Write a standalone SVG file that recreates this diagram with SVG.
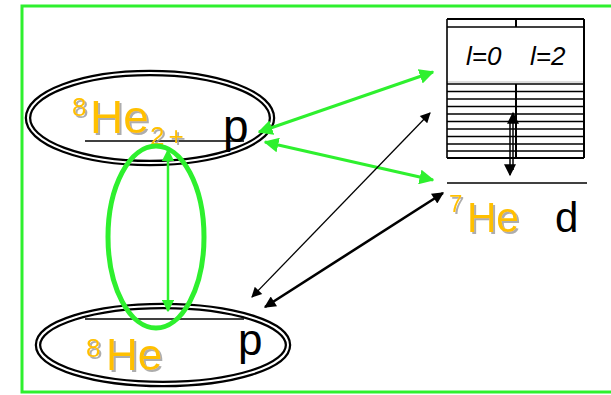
<svg xmlns="http://www.w3.org/2000/svg" width="611" height="395" viewBox="0 0 611 395">
<defs>
<style>
.he{font-family:"Liberation Sans",Arial,sans-serif;fill:#FFC000;filter:url(#sh)}
.blk{font-family:"Liberation Sans",Arial,sans-serif;fill:#000}
.ell{fill:none;stroke:#000}
.g{stroke:#2EF02E;fill:none}
.k{stroke:#000;fill:none}
.lv{font-family:"Liberation Sans",Arial,sans-serif;font-style:italic;font-size:26px;fill:#000}
</style>
<filter id="sh" x="-20%" y="-20%" width="150%" height="150%">
<feDropShadow dx="2" dy="2" stdDeviation="0.6" flood-color="#999" flood-opacity="0.8"/>
</filter>
<marker id="ag" viewBox="0 0 10 10" refX="9" refY="5" markerWidth="5" markerHeight="5" orient="auto-start-reverse" markerUnits="strokeWidth">
<path d="M0,0 L10,5 L0,10 z" fill="#2EF02E"/>
</marker>
<marker id="akt" viewBox="0 0 10 10" refX="9" refY="5" markerWidth="10" markerHeight="8" orient="auto-start-reverse" markerUnits="strokeWidth">
<path d="M0,0 L10,5 L0,10 z" fill="#000"/>
</marker>
<marker id="akT" viewBox="0 0 10 10" refX="9" refY="5" markerWidth="5.5" markerHeight="4.5" orient="auto-start-reverse" markerUnits="strokeWidth">
<path d="M0,0 L10,5 L0,10 z" fill="#000"/>
</marker>
</defs>
<rect width="611" height="395" fill="#fff"/>
<rect id="frame" x="22" y="6" width="600" height="386" fill="none" stroke="#2EF02E" stroke-width="3"/>

<g id="node-8He2p">
<ellipse cx="150" cy="118" rx="122" ry="45" class="ell" stroke-width="6.5"/>
<ellipse cx="150" cy="118" rx="122" ry="45" fill="none" stroke="#fff" stroke-width="2"/>
<line x1="85" y1="141" x2="244" y2="141" stroke="#000" stroke-width="1.5"/>
<text x="72" y="116" class="he" font-size="26">8</text>
<text x="90" y="133" class="he" font-size="46">He</text>
<text x="150" y="145" class="he" font-size="26" letter-spacing="4">2+</text>
<text x="223" y="142" class="blk" font-size="46">p</text>
</g>

<g id="node-8He">
<ellipse cx="163" cy="345" rx="125" ry="39" class="ell" stroke="#3a1a1a" stroke-width="6.5"/>
<ellipse cx="163" cy="345" rx="125" ry="39" fill="none" stroke="#fff" stroke-width="2"/>
<line x1="85" y1="319" x2="244" y2="319" stroke="#000" stroke-width="1.5"/>
<text x="86" y="357" class="he" font-size="26">8</text>
<text x="106" y="370" class="he" font-size="44">He</text>
<text x="238" y="355" class="blk" font-size="44">p</text>
</g>

<g id="node-pair">
<ellipse cx="156" cy="237" rx="48" ry="91" class="g" stroke-width="5"/>
</g>

<g id="node-7He">
<rect x="447" y="19" width="137" height="139" fill="#fff" stroke="none"/>
<g stroke="#000" stroke-width="1.6">
<line x1="447" y1="19" x2="584" y2="19" stroke-width="2.2"/>
<line x1="447" y1="27" x2="584" y2="27"/>
<line x1="447" y1="82" x2="584" y2="82" stroke="#bbb" stroke-width="1"/>
<line x1="447" y1="84" x2="584" y2="84"/>
<line x1="447" y1="91.5" x2="584" y2="91.5"/>
<line x1="447" y1="99" x2="584" y2="99"/>
<line x1="447" y1="106.5" x2="584" y2="106.5"/>
<line x1="447" y1="114" x2="584" y2="114"/>
<line x1="447" y1="121.5" x2="584" y2="121.5"/>
<line x1="447" y1="129" x2="584" y2="129"/>
<line x1="447" y1="136.5" x2="584" y2="136.5"/>
<line x1="447" y1="144" x2="584" y2="144"/>
<line x1="447" y1="151" x2="584" y2="151"/>
<line x1="447" y1="158" x2="584" y2="158" stroke-width="2"/>
<line x1="447" y1="19" x2="447" y2="158"/>
<line x1="584" y1="19" x2="584" y2="158" stroke-width="2"/>
<line x1="516" y1="19" x2="516" y2="27" stroke-width="2"/>
<line x1="516" y1="84" x2="516" y2="158" stroke-width="2"/>
</g>
<text x="466" y="65" class="lv">l=0</text>
<text x="530" y="65" class="lv">l=2</text>
<line x1="447" y1="183" x2="587" y2="183" stroke="#000" stroke-width="1.6"/>
<text x="449" y="212" class="he" font-size="24">7</text>
<text x="467" y="232" class="he" font-size="42" textLength="52" lengthAdjust="spacingAndGlyphs">He</text>
<text x="555" y="232" class="blk" font-size="42">d</text>
</g>

<g id="connectors">
<line x1="168" y1="150" x2="168" y2="311" class="g" stroke-width="2.5" marker-start="url(#ag)" marker-end="url(#ag)"/>
<line x1="259" y1="132" x2="433" y2="72" class="g" stroke-width="3" marker-start="url(#ag)" marker-end="url(#ag)"/>
<line x1="265" y1="142" x2="433" y2="180" class="g" stroke-width="3" marker-start="url(#ag)" marker-end="url(#ag)"/>
<line x1="252" y1="297" x2="430" y2="113" class="k" stroke-width="1.3" marker-start="url(#akt)" marker-end="url(#akt)"/>
<line x1="265" y1="307" x2="443" y2="193" class="k" stroke-width="2.6" marker-start="url(#akT)" marker-end="url(#akT)"/>
<line x1="513" y1="113" x2="513" y2="170" class="k" stroke-width="1.5" marker-start="url(#akt)"/>
<line x1="510" y1="120" x2="510" y2="175" class="k" stroke-width="1.5" marker-end="url(#akt)"/>
</g>
</svg>
